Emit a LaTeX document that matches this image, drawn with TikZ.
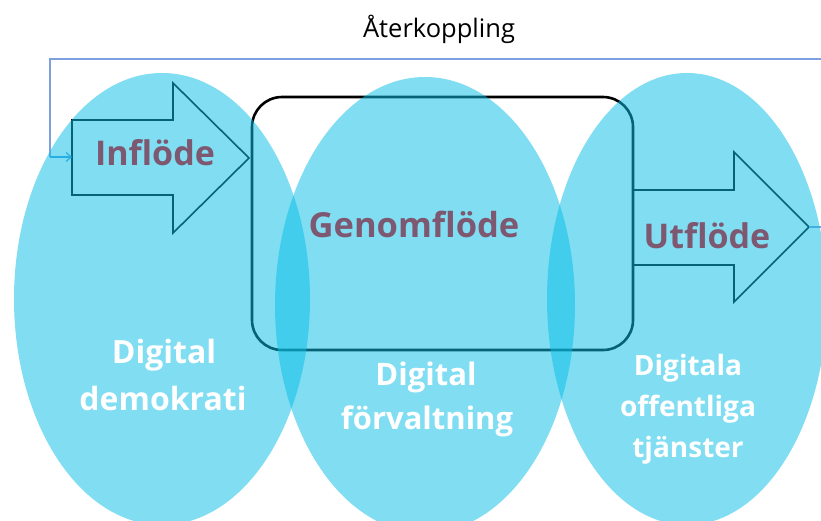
\documentclass[tikz,border=0pt]{standalone}
\usepackage{fontspec}
\setmainfont{Open Sans}
\usetikzlibrary{arrows.meta}
\definecolor{ellcol}{RGB}{11,190,230}
\definecolor{mauve}{RGB}{125,88,112}
\definecolor{fbline}{RGB}{125,160,225}
\definecolor{fbtip}{RGB}{70,160,225}
\tikzset{
  bubble/.style={fill=ellcol,fill opacity=0.52},
  flowarrow/.style={draw=black,line width=1.6pt,line join=miter},
  framebox/.style={draw=black,line width=2.6pt,rounded corners=30pt},
  flowlabel/.style={font=\bfseries\fontsize{34}{36}\selectfont,text=mauve,inner sep=0pt,anchor=base},
  arealabel/.style={font=\bfseries\fontsize{32}{40}\selectfont,text=white,inner sep=0pt,anchor=base},
  fb/.style={draw=fbline,line width=1.2pt}
}
\begin{document}
\begin{tikzpicture}[x=1pt,y=-1pt]
\useasboundingbox (0,0) rectangle (821,520);
\clip (0,0) rectangle (821,520);
% rectangle (process frame)
\draw[framebox] (252,97) rectangle (633,350);
% inflow arrow
\draw[flowarrow] (72,120) coordinate (inL) -- (173,120) -- (173,83) -- (249,158) coordinate (inTip) -- (173,233) -- (173,195) -- (72,195) -- cycle;
\coordinate (inMid) at (72,157);
% outflow arrow
\draw[flowarrow] (633,190) -- (734,190) -- (734,152) -- (809,227) coordinate (outTip) -- (734,302) -- (734,265) -- (633,265);
% feedback loop
\coordinate (fbR) at (840,227);
\coordinate (fbRT) at (840,59);
\coordinate (fbLT) at (50,59);
\coordinate (fbLB) at (50,157);
\draw[fb] (outTip) -- (fbR) -- (fbRT) -- (fbLT) -- (fbLB);
\draw[draw=fbtip,line width=1.2pt,-{Straight Barb[length=5pt,width=9pt]}] (fbLB) -- (inMid);
% ellipses
\fill[bubble] (162,299) ellipse [x radius=148pt, y radius=226pt];
\fill[bubble] (425,305) ellipse [x radius=150pt, y radius=228pt];
\fill[bubble] (687,299) ellipse [x radius=140pt, y radius=226pt];
% labels
\node[font=\fontsize{25.5}{28}\selectfont,inner sep=0pt,anchor=base] (fbtext) at (439,37) {Återkoppling};
\node[flowlabel] (inflode) at (155,165) {Inflöde};
\node[flowlabel,font=\bfseries\fontsize{34.5}{36}\selectfont] (genom) at (414,237) {Genomflöde};
\node[flowlabel] (utflode) at (707,248) {Utflöde};
\node[arealabel] (demoA) at (164,363) {Digital};
\node[arealabel] (demoB) at (163,410) {demokrati};
\node[arealabel,font=\bfseries\fontsize{31}{40}\selectfont] (forvA) at (426,385) {Digital};
\node[arealabel,font=\bfseries\fontsize{31}{40}\selectfont] (forvB) at (427,429) {förvaltning};
\node[arealabel,font=\bfseries\fontsize{28}{40}\selectfont] (tjanA) at (688,375) {Digitala};
\node[arealabel,font=\bfseries\fontsize{28}{40}\selectfont] (tjanB) at (688,416) {offentliga};
\node[arealabel,font=\bfseries\fontsize{28}{40}\selectfont] (tjanC) at (688,457) {tjänster};
\end{tikzpicture}
\end{document}
